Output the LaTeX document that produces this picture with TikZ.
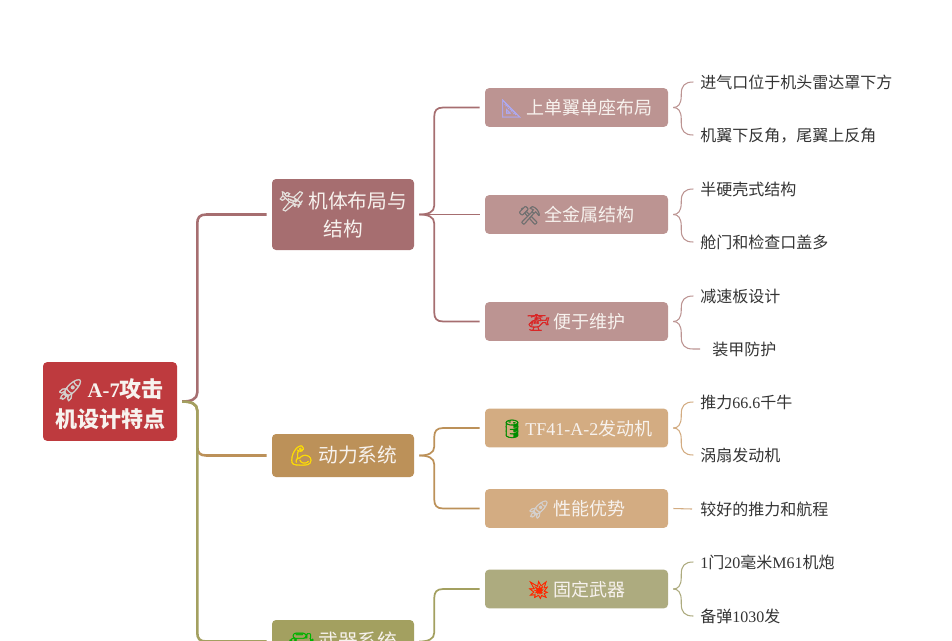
\documentclass[tikz,border=0pt]{standalone}
\usepackage{fontspec}
\setmainfont{Noto Sans CJK SC}
\newfontfamily\lat{Liberation Serif}
\newfontfamily\emj[FakeBold=1.6]{Noto Emoji}
\usetikzlibrary{calc}
\definecolor{cRoot}{HTML}{BE3A3E}
\definecolor{cA}{HTML}{A66E70}
\definecolor{cB}{HTML}{BC9159}
\definecolor{cC}{HTML}{A3A060}
\definecolor{cAl}{HTML}{BC9492}
\definecolor{cBl}{HTML}{D3AC82}
\definecolor{cCl}{HTML}{ADAB7F}
\definecolor{cLeaf}{HTML}{333333}
\definecolor{cTxt}{HTML}{F7F2EE}
\newcommand{\emo}[2]{{\color{#1}\emj #2}}
\newcommand{\branchto}[7]{% style, source, target, sign (+1 up, -1 down), stem, gap at target, radius
  \draw[#1] let \p1=($(#2.east)+(5,0)$), \p2=($(#3.west)+(-#6,0)$) in
    (\x1,\y1) .. controls (\x1+#5*0.45pt,\y1) and (\x1+#5*0.75pt,\y1+#4*#7*0.2pt) .. (\x1+#5*0.75pt,\y1+#4*#7*0.75pt)
    -- (\x1+#5*0.75pt,\y2-#4*#7*0.75pt) .. controls (\x1+#5*0.75pt,\y2-#4*#7*0.25pt) and (\x1+#5*0.75pt+#7*0.2pt,\y2) .. (\x1+#5*0.75pt+#7*0.75pt,\y2)
    -- (\x2,\y2);}
\tikzset{
  x=0.75pt,y=-0.75pt,
  box/.style={rectangle,rounded corners=3pt,inner sep=0pt,align=center,text=cTxt},
  rootbox/.style={box,fill=cRoot,minimum width=100.5pt,minimum height=59pt,font=\fontsize{16.5}{22.5}\selectfont\bfseries},
  lonebox/.style={box,minimum width=106.5pt,font=\fontsize{14.8}{21}\selectfont},
  ltwobox/.style={box,minimum width=137.25pt,minimum height=29pt,font=\fontsize{13.5}{18}\selectfont,text height=12pt,text depth=1.5pt},
  leaf/.style={anchor=west,inner sep=0pt,text=cLeaf,font=\fontsize{12}{15}\selectfont,text height=10.5pt,text depth=1.5pt},
  wa/.style={line width=1.9pt,cA},wb/.style={line width=1.9pt,cB},wc/.style={line width=1.9pt,cC},
  ma/.style={line width=1.3pt,cA},mb/.style={line width=1.3pt,cB},mc/.style={line width=1.3pt,cC},
  la/.style={line width=.8pt,cAl},lb/.style={line width=.8pt,cBl},lc/.style={line width=.8pt,cCl},
}
\begin{document}
\begin{tikzpicture}
\path[use as bounding box] (0,0) rectangle (952,640);
\clip (0,0) rectangle (952,640);
% root
\node[rootbox] (root) at (110,401.5) {\rule{0pt}{18pt}\emo{cTxt!70!gray}{🚀}\hspace{-1pt} {\lat\fontsize{15.5}{22.5}\selectfont\bfseries A-7}攻击\\机设计特点};
% level one
\node[lonebox,fill=cA,minimum height=53.25pt] (frame) at (343,214.5) {\emo{cTxt!85!gray}{🛩} 机体布局与\\结构};
\node[lonebox,fill=cB,minimum height=32.25pt] (power) at (343,455.5) {\emo{yellow!80!orange}{💪} 动力系统};
\node[lonebox,fill=cC,minimum height=32.25pt] (arms) at (343,641.5) {\emo{green!70!black}{🔫} 武器系统};
% level two
\node[ltwobox,fill=cAl] (wing) at (576.5,107.5) {\emo{cTxt!70!blue}{📐} 上单翼单座布局};
\node[ltwobox,fill=cAl] (metal) at (576.5,214.5) {\emo{cLeaf!70}{⚒} 全金属结构};
\node[ltwobox,fill=cAl] (maint) at (576.5,321.5) {\emo{red!70!gray}{🚁} 便于维护};
\node[ltwobox,fill=cBl] (engine) at (576.5,428) {\emo{green!55!black}{🛢}\hspace{-1.5pt} {\lat TF41-A-2}发动机};
\node[ltwobox,fill=cBl] (perf) at (576.5,508.5) {\emo{cTxt!70!gray}{🚀} 性能优势};
\node[ltwobox,fill=cCl] (fixed) at (576.5,589) {\emo{red!70!orange}{💥} 固定武器};
% leaves
\node[leaf] (l1) at (700,82) {进气口位于机头雷达罩下方};
\node[leaf] (l2) at (700,135) {机翼下反角，尾翼上反角};
\node[leaf] (l3) at (700,189) {半硬壳式结构};
\node[leaf] (l4) at (700,242) {舱门和检查口盖多};
\node[leaf] (l5) at (700,296) {减速板设计};
\node[leaf] (l6) at (712,349) {装甲防护};
\node[leaf] (l7) at (700,402) {推力{\lat 66.6}千牛};
\node[leaf] (l8) at (700,455) {涡扇发动机};
\node[leaf] (l9) at (700,509) {较好的推力和航程};
\node[leaf] (l10) at (700,562) {{\lat 1}门{\lat 20}毫米{\lat M61}机炮};
\node[leaf] (l11) at (700,616) {备弹{\lat 1030}发};
% root connectors
\branchto{wb}{root}{power}{-1}{15}{5}{9}
\branchto{wa}{root}{frame}{1}{15}{5}{9}
\branchto{wc}{root}{arms}{-1}{15}{5}{9}
% level one connectors
\branchto{ma}{frame}{wing}{1}{15}{5}{9}
\draw[ma] ($(frame.east)+(5,0)$) -- ($(metal.west)+(-5,0)$);
\branchto{ma}{frame}{maint}{-1}{15}{5}{9}
\branchto{mb}{power}{engine}{1}{15}{5}{9}
\branchto{mb}{power}{perf}{-1}{15}{5}{9}
\branchto{mc}{arms}{fixed}{1}{15}{5}{9}
% level two connectors
\branchto{la}{wing}{l1}{1}{8}{7}{12}
\branchto{la}{wing}{l2}{-1}{8}{7}{12}
\branchto{la}{metal}{l3}{1}{8}{7}{12}
\branchto{la}{metal}{l4}{-1}{8}{7}{12}
\branchto{la}{maint}{l5}{1}{8}{7}{12}
\branchto{la}{maint}{l6}{-1}{8}{12}{12}
\branchto{lb}{engine}{l7}{1}{8}{7}{12}
\branchto{lb}{engine}{l8}{-1}{8}{7}{12}
\draw[lb] ($(perf.east)+(5,0)$) -- ($(l9.west)+(-8,0)$);
\branchto{lc}{fixed}{l10}{1}{8}{7}{12}
\branchto{lc}{fixed}{l11}{-1}{8}{7}{12}
\end{tikzpicture}
\end{document}
